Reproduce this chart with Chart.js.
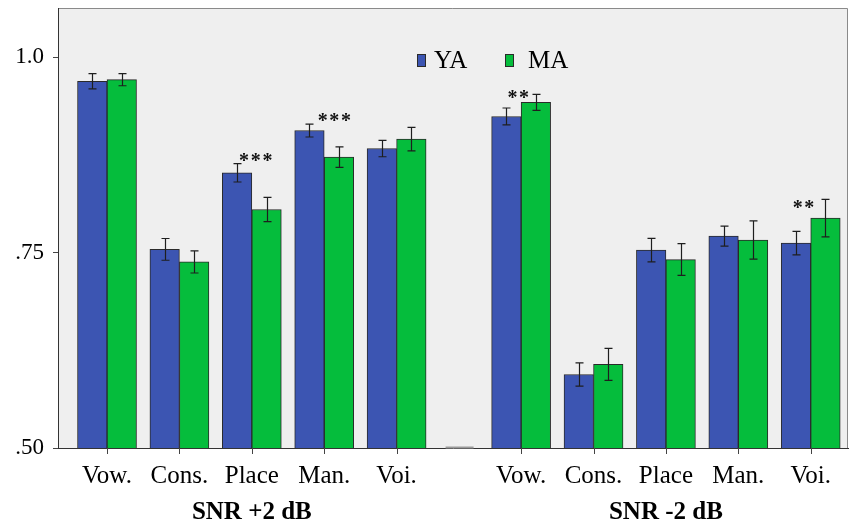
<!DOCTYPE html>
<html>
<head>
<meta charset="utf-8">
<script src="https://cdn.jsdelivr.net/npm/chart.js@4/dist/chart.umd.min.js"></script>
<style>
  html, body { margin: 0; padding: 0; background: #ffffff; }
  #wrap { width: 849px; height: 527px; position: relative; }
</style>
</head>
<body>
<div id="wrap"><canvas id="c" width="849" height="527"></canvas></div>
<script>
// Phoneme feature categories, repeated for the two SNR conditions
const categories = ['Vow.', 'Cons.', 'Place', 'Man.', 'Voi.', 'Vow.', 'Cons.', 'Place', 'Man.', 'Voi.'];
// Position of each category along the x axis (the second condition is set apart)
const catPos = [0, 1, 2, 3, 4, 5.72, 6.72, 7.72, 8.72, 9.72];
const groupLabels = ['SNR +2 dB', 'SNR -2 dB'];
const groupPos = [2, 7.72];
const gapPos = [4.87];

// Proportion correct, young adults (YA) and middle-aged adults (MA)
const yaValues = [0.969, 0.754, 0.852, 0.906, 0.883, 0.924, 0.594, 0.753, 0.771, 0.762];
const maValues = [0.971, 0.738, 0.805, 0.872, 0.895, 0.942, 0.607, 0.741, 0.766, 0.794];
// Half-length of the error bars
const yaErr = [0.0097, 0.0139, 0.0118, 0.0083, 0.0105, 0.0108, 0.0148, 0.0150, 0.0128, 0.0150];
const maErr = [0.0077, 0.0142, 0.0155, 0.0130, 0.0150, 0.0102, 0.0205, 0.0203, 0.0245, 0.0240];

// Significance markers
const starText = ['***', '***', '**', '**'];
const starX = [2.055, 3.14, 5.68, 9.62];
const starY = [0.873, 0.924, 0.954, 0.813];

// Y axis ticks
const yTicks = [0.5, 0.75, 1.0];
const yTickLabels = ['.50', '.75', '1.0'];

const SERIF = '"Liberation Serif", "Times New Roman", serif';
const YA_COLOR = '#3c55b2';
const MA_COLOR = '#05bd3c';
const EDGE = '#2a2a2a';

const toPoints = vals => vals.map((v, i) => ({ x: catPos[i], y: v }));

const plotBackground = {
  id: 'plotBackground',
  beforeDraw(chart) {
    const { ctx, chartArea: a } = chart;
    ctx.save();
    ctx.fillStyle = '#efefef';
    ctx.fillRect(a.left, a.top, a.right - a.left, a.bottom - a.top);
    ctx.strokeStyle = '#8a8a8a';
    ctx.lineWidth = 1;
    ctx.beginPath();
    ctx.moveTo(a.left, a.top + 0.5);
    ctx.lineTo(a.right - 0.5, a.top + 0.5);
    ctx.lineTo(a.right - 0.5, a.bottom);
    ctx.stroke();
    ctx.restore();
  }
};

const errorBars = {
  id: 'errorBars',
  afterDatasetsDraw(chart) {
    const { ctx } = chart;
    const yScale = chart.scales.y;
    const errs = [yaErr, maErr];
    ctx.save();
    ctx.strokeStyle = '#1e1e1e';
    ctx.lineWidth = 1.2;
    chart.data.datasets.forEach((ds, di) => {
      const meta = chart.getDatasetMeta(di);
      meta.data.forEach((bar, i) => {
        const v = ds.data[i].y;
        const e = errs[di][i];
        const x = Math.round(bar.x) + 0.5;
        const yTop = yScale.getPixelForValue(v + e);
        const yBot = yScale.getPixelForValue(v - e);
        const cap = 4;
        ctx.beginPath();
        ctx.moveTo(x, yTop); ctx.lineTo(x, yBot);
        ctx.moveTo(x - cap, yTop); ctx.lineTo(x + cap, yTop);
        ctx.moveTo(x - cap, yBot); ctx.lineTo(x + cap, yBot);
        ctx.stroke();
      });
    });
    ctx.restore();
  }
};

const annotations = {
  id: 'annotations',
  afterDraw(chart) {
    const { ctx } = chart;
    const xs = chart.scales.x, ys = chart.scales.y;
    ctx.save();
    // tick marks below the category axis
    ctx.strokeStyle = '#444';
    ctx.lineWidth = 1;
    catPos.forEach(v => {
      const px = Math.round(xs.getPixelForValue(v)) + 0.5;
      ctx.beginPath();
      ctx.moveTo(px, ys.bottom);
      ctx.lineTo(px, ys.bottom + 6);
      ctx.stroke();
    });
    // significance stars
    ctx.fillStyle = '#111';
    ctx.font = 'bold 20px ' + SERIF;
    ctx.textAlign = 'center';
    ctx.textBaseline = 'alphabetic';
    starText.forEach((t, i) => {
      const px = xs.getPixelForValue(starX[i]);
      const py = ys.getPixelForValue(starY[i]);
      const spaced = t.split('').join('\u200A');
      ctx.fillText(spaced, px, py + 11);
    });
    // short grey segment on the baseline between the two conditions
    ctx.strokeStyle = '#9a9a9a';
    ctx.lineWidth = 2;
    gapPos.forEach(g => {
      const px = xs.getPixelForValue(g);
      ctx.beginPath();
      ctx.moveTo(px - 14, ys.bottom - 0.5);
      ctx.lineTo(px + 14, ys.bottom - 0.5);
      ctx.stroke();
    });
    // legend drawn inside the plot area
    const a = chart.chartArea;
    const items = [
      { x: a.left + 359, tx: a.left + 376 },
      { x: a.left + 447, tx: a.left + 470 }
    ];
    ctx.font = '25px ' + SERIF;
    ctx.textAlign = 'left';
    ctx.textBaseline = 'middle';
    chart.data.datasets.forEach((ds, i) => {
      const it = items[i];
      ctx.fillStyle = ds.backgroundColor;
      ctx.fillRect(it.x, a.top + 46, 8.5, 12.5);
      ctx.strokeStyle = EDGE;
      ctx.lineWidth = 1;
      ctx.strokeRect(it.x + 0.5, a.top + 46.5, 8, 12);
      ctx.fillStyle = '#000';
      ctx.fillText(ds.label, it.tx, a.top + 53);
    });
    ctx.restore();
  }
};

const noPad = scale => {
  scale.paddingTop = 0; scale.paddingBottom = 0;
  scale.paddingLeft = 0; scale.paddingRight = 0;
};

new Chart(document.getElementById('c'), {
  type: 'bar',
  data: {
    datasets: [
      { label: 'YA', data: toPoints(yaValues), backgroundColor: YA_COLOR, borderColor: EDGE, borderWidth: 1, borderSkipped: 'start' },
      { label: 'MA', data: toPoints(maValues), backgroundColor: MA_COLOR, borderColor: EDGE, borderWidth: 1, borderSkipped: 'start' }
    ]
  },
  options: {
    responsive: false,
    animation: false,
    devicePixelRatio: 1,
    barThickness: 29.5,
    layout: { padding: { top: 8, right: 1, left: 0, bottom: 0 } },
    plugins: { legend: { display: false }, tooltip: { enabled: false } },
    scales: {
      x: {
        type: 'linear',
        min: -0.677,
        max: 10.235,
        offset: false,
        weight: 0,
        afterBuildTicks(scale) { scale.ticks = catPos.map(v => ({ value: v })); },
        afterFit(scale) { scale.height = 42; noPad(scale); },
        ticks: {
          autoSkip: false,
          maxRotation: 0,
          padding: 13,
          color: '#000',
          font: { family: SERIF, size: 25 },
          callback(value, index) { return categories[index]; }
        },
        grid: { offset: false, drawOnChartArea: false, drawTicks: false, tickLength: 6 },
        border: { display: true, color: '#333', width: 1 }
      },
      x2: {
        type: 'linear',
        position: 'bottom',
        min: -0.677,
        max: 10.235,
        offset: false,
        weight: 1,
        afterBuildTicks(scale) { scale.ticks = groupPos.map(v => ({ value: v })); },
        afterFit(scale) { scale.height = 37; noPad(scale); },
        ticks: {
          autoSkip: false,
          maxRotation: 0,
          padding: 8,
          color: '#000',
          font: { family: SERIF, size: 25, weight: 'bold' },
          callback(value, index) { return groupLabels[index]; }
        },
        grid: { offset: false, display: false, drawTicks: false },
        border: { display: false }
      },
      y: {
        min: 0.5,
        max: 1.0627,
        afterBuildTicks(scale) { scale.ticks = yTicks.map(v => ({ value: v })); },
        afterFit(scale) { scale.width = 58; noPad(scale); },
        ticks: {
          padding: 9,
          color: '#000',
          font: { family: SERIF, size: 23 },
          callback(value, index) { return yTickLabels[index]; }
        },
        grid: { drawOnChartArea: false, drawTicks: true, tickLength: 5, color: '#444' },
        border: { display: true, color: '#333', width: 1 }
      }
    }
  },
  plugins: [plotBackground, errorBars, annotations]
});
</script>
</body>
</html>
